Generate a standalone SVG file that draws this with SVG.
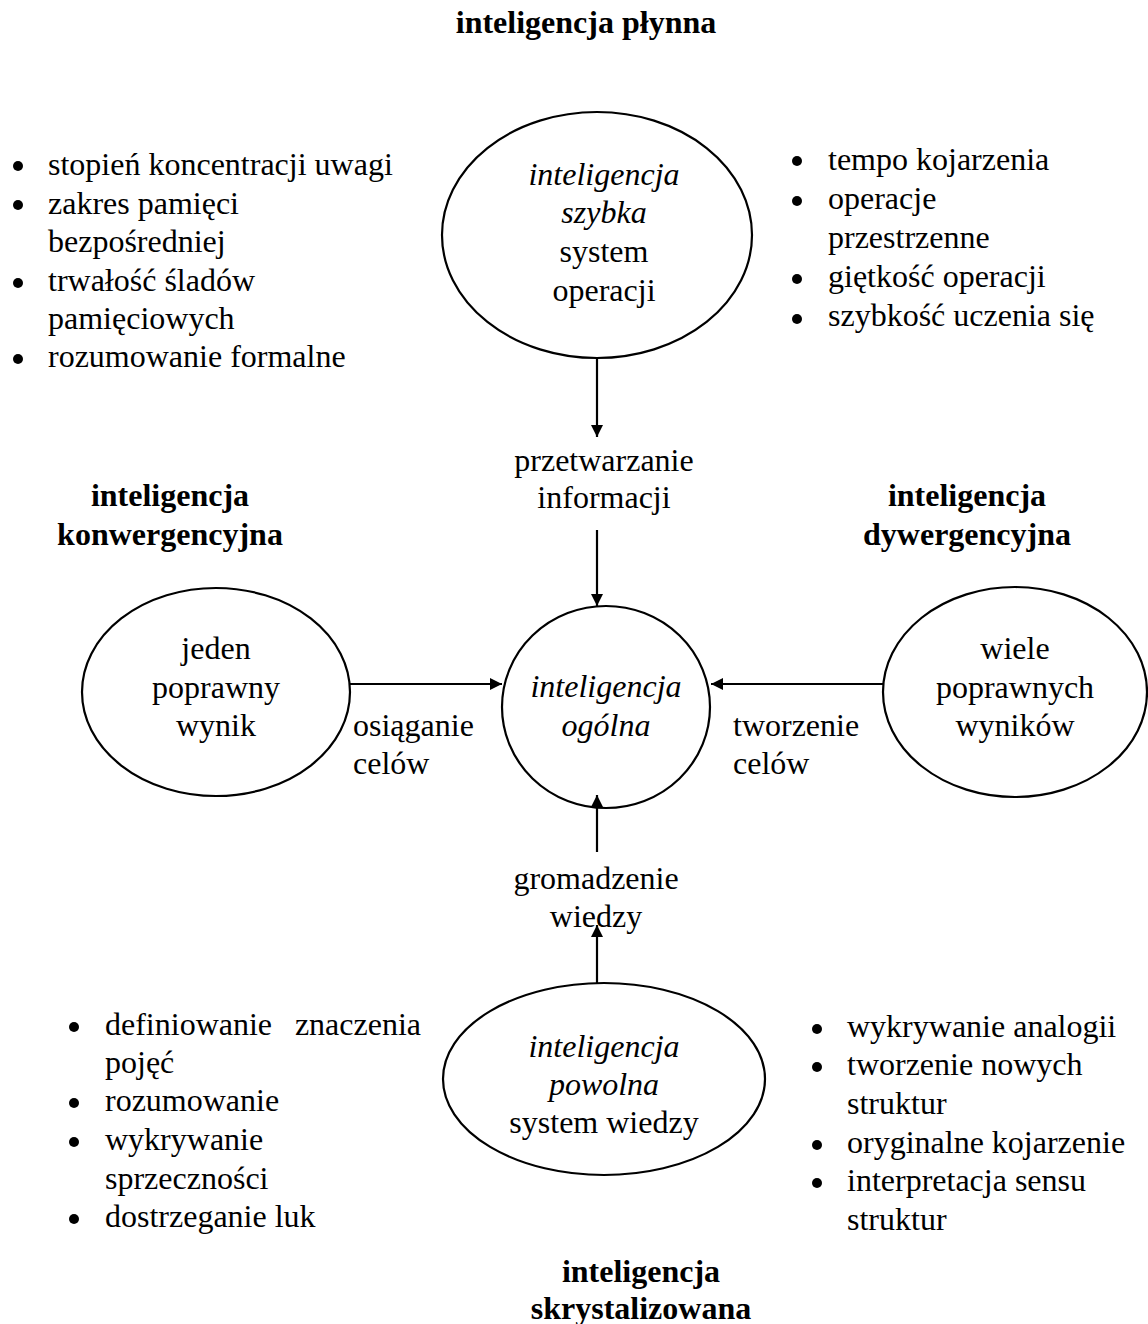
<svg xmlns="http://www.w3.org/2000/svg" width="1148" height="1324" viewBox="0 0 1148 1324">
  <style>
    text { font-family: "Liberation Serif", "Times New Roman", serif; font-size: 32px; fill: #000; }
    .c { text-anchor: middle; }
    .b { font-weight: bold; }
    .i { font-style: italic; }
    .node ellipse { fill: none; stroke: #000; stroke-width: 2.2; }
    .edge { stroke: #000; stroke-width: 2.2; fill: none; marker-end: url(#arrow); }
    .dot { fill: #000; }
  </style>
  <defs>
    <marker id="arrow" viewBox="0 0 10 10" refX="10" refY="5" markerWidth="5.5" markerHeight="5.5" orient="auto" markerUnits="strokeWidth">
      <path d="M0,0 L10,5 L0,10 z" fill="#000"/>
    </marker>
  </defs>
  <rect width="1148" height="1324" fill="#fff"/>

  <!-- headings -->
  <g id="heading-plynna"><text class="c b" x="586" y="33">inteligencja płynna</text></g>
  <g id="heading-konwergencyjna">
    <text class="c b" x="170" y="506">inteligencja</text>
    <text class="c b" x="170" y="545">konwergencyjna</text>
  </g>
  <g id="heading-dywergencyjna">
    <text class="c b" x="967" y="506">inteligencja</text>
    <text class="c b" x="967" y="545">dywergencyjna</text>
  </g>
  <g id="heading-skrystalizowana">
    <text class="c b" x="641" y="1282">inteligencja</text>
    <text class="c b" x="641" y="1319">skrystalizowana</text>
  </g>

  <!-- nodes -->
  <g id="node-szybka" class="node">
    <ellipse cx="597" cy="235" rx="155" ry="123"/>
    <text class="c i" x="604" y="185">inteligencja</text>
    <text class="c i" x="604" y="223">szybka</text>
    <text class="c" x="604" y="262">system</text>
    <text class="c" x="604" y="301">operacji</text>
  </g>
  <g id="node-ogolna" class="node">
    <ellipse cx="606" cy="707" rx="104" ry="101"/>
    <text class="c i" x="606" y="697">inteligencja</text>
    <text class="c i" x="606" y="736">ogólna</text>
  </g>
  <g id="node-jeden" class="node">
    <ellipse cx="216" cy="692" rx="134" ry="104"/>
    <text class="c" x="216" y="659">jeden</text>
    <text class="c" x="216" y="698">poprawny</text>
    <text class="c" x="216" y="736">wynik</text>
  </g>
  <g id="node-wiele" class="node">
    <ellipse cx="1015" cy="692" rx="132" ry="105"/>
    <text class="c" x="1015" y="659">wiele</text>
    <text class="c" x="1015" y="698">poprawnych</text>
    <text class="c" x="1015" y="736">wyników</text>
  </g>
  <g id="node-powolna" class="node">
    <ellipse cx="604" cy="1079" rx="161" ry="96"/>
    <text class="c i" x="604" y="1057">inteligencja</text>
    <text class="c i" x="604" y="1095">powolna</text>
    <text class="c" x="604" y="1133">system wiedzy</text>
  </g>

  <!-- connectors -->
  <g id="connectors">
    <line class="edge" x1="597" y1="358" x2="597" y2="437"/>
    <line class="edge" x1="597" y1="530" x2="597" y2="606"/>
    <line class="edge" x1="597" y1="983" x2="597" y2="925"/>
    <line class="edge" x1="597" y1="852" x2="597" y2="795"/>
    <line class="edge" x1="350" y1="684" x2="502" y2="684"/>
    <line class="edge" x1="883" y1="684" x2="711" y2="684"/>
  </g>

  <!-- connector labels -->
  <g id="label-przetwarzanie">
    <text class="c" x="604" y="471">przetwarzanie</text>
    <text class="c" x="604" y="508">informacji</text>
  </g>
  <g id="label-osiaganie">
    <text x="353" y="736">osiąganie</text>
    <text x="353" y="774">celów</text>
  </g>
  <g id="label-tworzenie">
    <text x="733" y="736">tworzenie</text>
    <text x="733" y="774">celów</text>
  </g>
  <g id="label-gromadzenie">
    <text class="c" x="596" y="889">gromadzenie</text>
    <text class="c" x="596" y="927">wiedzy</text>
  </g>

  <!-- bullet lists -->
  <g id="list-top-left">
    <circle class="dot" cx="18" cy="166" r="5"/>
    <text x="48" y="175">stopień koncentracji uwagi</text>
    <circle class="dot" cx="18" cy="205" r="5"/>
    <text x="48" y="214">zakres pamięci</text>
    <text x="48" y="252">bezpośredniej</text>
    <circle class="dot" cx="18" cy="283" r="5"/>
    <text x="48" y="291">trwałość śladów</text>
    <text x="48" y="329">pamięciowych</text>
    <circle class="dot" cx="18" cy="359" r="5"/>
    <text x="48" y="367">rozumowanie formalne</text>
  </g>
  <g id="list-top-right">
    <circle class="dot" cx="797" cy="161" r="5"/>
    <text x="828" y="170">tempo kojarzenia</text>
    <circle class="dot" cx="797" cy="201" r="5"/>
    <text x="828" y="209">operacje</text>
    <text x="828" y="248">przestrzenne</text>
    <circle class="dot" cx="797" cy="279" r="5"/>
    <text x="828" y="287">giętkość operacji</text>
    <circle class="dot" cx="797" cy="319" r="5"/>
    <text x="828" y="326">szybkość uczenia się</text>
  </g>
  <g id="list-bottom-left">
    <circle class="dot" cx="74" cy="1027" r="5"/>
    <text x="105" y="1035">definiowanie</text>
    <text x="421" y="1035" text-anchor="end">znaczenia</text>
    <text x="105" y="1073">pojęć</text>
    <circle class="dot" cx="74" cy="1103" r="5"/>
    <text x="105" y="1111">rozumowanie</text>
    <circle class="dot" cx="74" cy="1142" r="5"/>
    <text x="105" y="1150">wykrywanie</text>
    <text x="105" y="1189">sprzeczności</text>
    <circle class="dot" cx="74" cy="1219" r="5"/>
    <text x="105" y="1227">dostrzeganie luk</text>
  </g>
  <g id="list-bottom-right">
    <circle class="dot" cx="817" cy="1029" r="5"/>
    <text x="847" y="1037">wykrywanie analogii</text>
    <circle class="dot" cx="817" cy="1067" r="5"/>
    <text x="847" y="1075">tworzenie nowych</text>
    <text x="847" y="1114">struktur</text>
    <circle class="dot" cx="817" cy="1145" r="5"/>
    <text x="847" y="1153">oryginalne kojarzenie</text>
    <circle class="dot" cx="817" cy="1183" r="5"/>
    <text x="847" y="1191">interpretacja sensu</text>
    <text x="847" y="1230">struktur</text>
  </g>
</svg>
